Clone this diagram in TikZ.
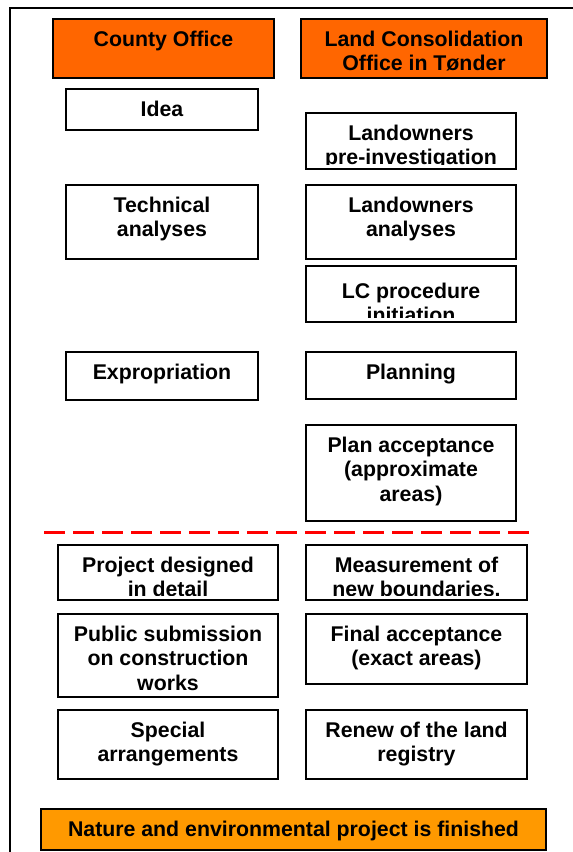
\documentclass[tikz,border=0pt]{standalone}
\usepackage{fontspec}
\setmainfont{Liberation Sans}

\definecolor{headorange}{HTML}{FF6600}
\definecolor{endorange}{HTML}{FF9900}
\definecolor{cutred}{HTML}{FF0000}

\tikzset{
	stepframe/.style={draw=black, line width=1.6pt, fill=white},
	steptext/.style={anchor=north, yshift=-11.5pt, inner sep=0pt, align=center,
		font=\bfseries\fontsize{21.3}{24.5}\selectfont},
}
% [options]{name}{left}{top}{right}{bottom}{text}, text hangs from the top and is cut off at the bottom
\newcommand\stepbox[7][]{%
	\begin{scope}[#1]
		\draw[stepframe] (#3,#4) rectangle (#5,#6);
		\begin{scope}
			\clip (#3,#4) rectangle (#5,#6-5);
			\node[steptext] (#2) at ({(#3+#5)/2},#4) {#7};
		\end{scope}
	\end{scope}}

\begin{document}
\begin{tikzpicture}[x=1pt, y=-1pt]
			%%%%% START %%%%%
			\useasboundingbox[fill=white] (0,0) rectangle (573,852);
			
			\draw[line width=2pt] (10,852) -- (10,8) -- (573,8);
			
			\stepbox[stepframe/.append style={fill=headorange}]{county}{53}{19}{274}{78}{County Office}
			\stepbox[stepframe/.append style={fill=headorange}]{lcoffice}{301}{19}{547}{78}{Land Consolidation\\Office in Tønder}
			
			% county office column
			\stepbox{idea}{66}{89}{258}{130}{Idea}
			\stepbox{technical}{66}{185}{258}{259}{Technical\\analyses}
			\stepbox{expropriation}{66}{352}{258}{400}{Expropriation}
			
			% land consolidation column
			\stepbox{preinv}{306}{113}{516}{169}{Landowners\\pre-investigation}
			\stepbox{ownanalyses}{306}{185}{516}{259}{Landowners\\analyses}
			\stepbox[steptext/.append style={yshift=-5pt}]{lcinit}{306}{266}{516}{322}{LC procedure\\initiation}
			\stepbox{planning}{306}{352}{516}{399}{Planning}
			\stepbox{planaccept}{306}{425}{516}{521}{Plan acceptance\\(approximate\\areas)}
			
			\draw[cutred, line width=3pt, dash pattern=on 21pt off 8pt] (44,532) -- (535,532);
			
			\stepbox{design}{58}{545}{278}{600}{Project designed\\in detail}
			\stepbox{submission}{58}{614}{278}{697}{Public submission\\on construction\\works}
			\stepbox{special}{58}{710}{278}{779}{Special\\arrangements}
			
			\stepbox{measure}{306}{545}{527}{600}{Measurement of\\new boundaries.}
			\stepbox{finalaccept}{306}{614}{527}{684}{Final acceptance\\(exact areas)}
			\stepbox{registry}{306}{710}{527}{779}{Renew of the land\\registry}
			
			\stepbox[stepframe/.append style={fill=endorange}]{finished}{41}{809}{546}{850}{Nature and environmental project is finished}
			
			%%%%% END %%%%%
\end{tikzpicture}
\end{document}
